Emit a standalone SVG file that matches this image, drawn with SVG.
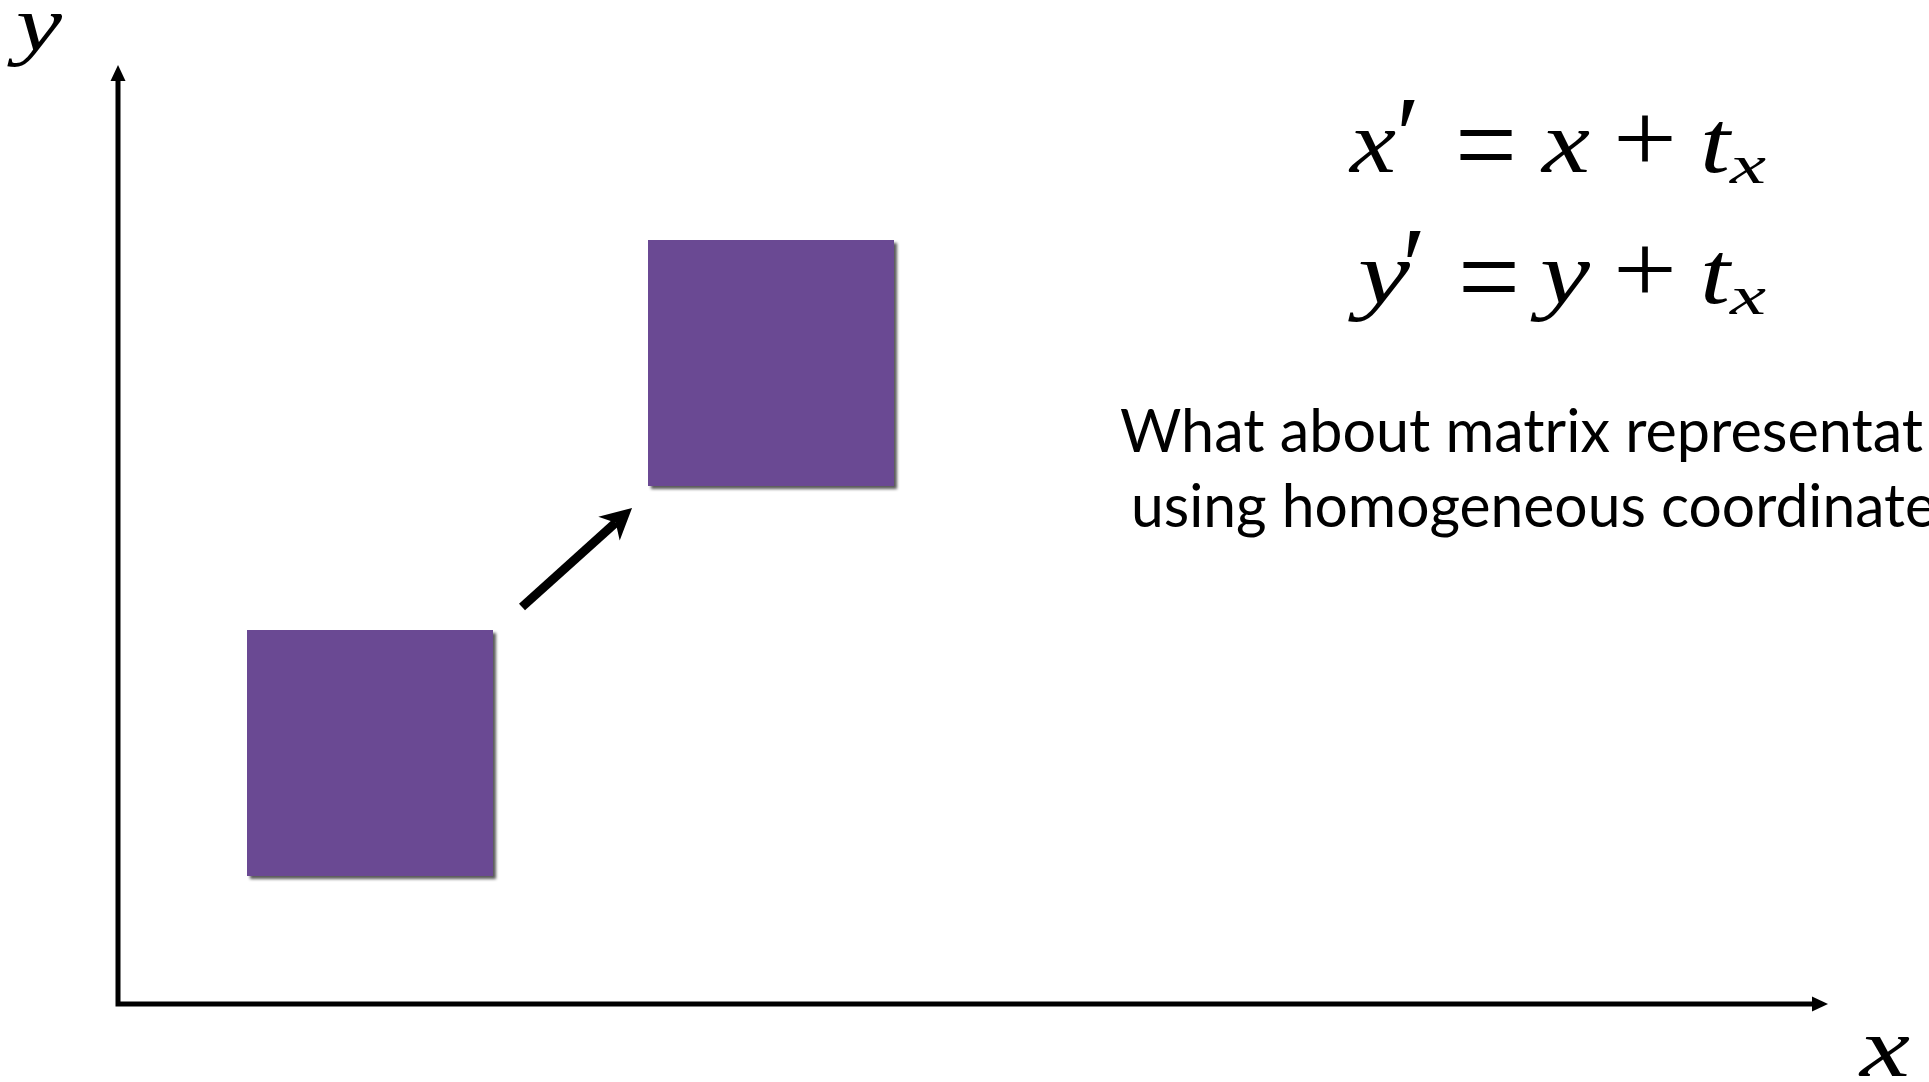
<svg xmlns="http://www.w3.org/2000/svg" width="1929" height="1082" viewBox="0 0 1929 1082">
<style>
.m{font-family:"Liberation Serif","Times New Roman",serif;font-style:italic;fill:#000}
.op{font-family:"Liberation Serif","Times New Roman",serif;fill:#000}
.q{font-family:Lato,"Open Sans",sans-serif;font-size:60px;fill:#000}
.ax{fill:none;stroke:#000;stroke-width:5;stroke-linejoin:miter}
.sq{fill:#6a4893;filter:url(#sh)}
</style>
<defs>
<filter id="sh" x="-5%" y="-5%" width="115%" height="115%">
<feDropShadow dx="3" dy="3" stdDeviation="1.5" flood-color="#000" flood-opacity="0.65"/>
</filter>
<marker id="axh" markerUnits="userSpaceOnUse" viewBox="0 -8 17 16" refX="0" refY="0" markerWidth="17" markerHeight="16" orient="auto-start-reverse">
<path d="M16,0 L0,-7.5 L0,7.5 Z" fill="#000"/>
</marker>
<marker id="dh" markerUnits="userSpaceOnUse" viewBox="-10 -17 33 34" refX="0" refY="0" markerWidth="33" markerHeight="34" orient="auto">
<path d="M22,0 L-9,-16 L0,0 L-9,16 Z" fill="#000"/>
</marker>
</defs>
<rect width="1929" height="1082" fill="#fff"/>
<g id="connectors">
<path class="ax" d="M118,81 L118,1004 L1812,1004" marker-start="url(#axh)" marker-end="url(#axh)"/>
<line x1="522" y1="607" x2="615.7" y2="522.7" stroke="#000" stroke-width="9" marker-end="url(#dh)"/>
</g>
<g id="axis-labels">
<text class="m" x="16" y="50" font-size="78" textLength="46" lengthAdjust="spacingAndGlyphs">y</text>
<text class="m" x="1860" y="1076" font-size="84" textLength="50" lengthAdjust="spacingAndGlyphs">x</text>
</g>
<g id="square-original"><rect class="sq" x="247" y="630" width="246" height="246"/></g>
<g id="square-translated"><rect class="sq" x="648" y="240" width="246" height="246"/></g>
<g id="equations">
<text class="m" x="1350" y="172" font-size="88" textLength="46" lengthAdjust="spacingAndGlyphs">x</text>
<text class="op" x="1396" y="172" font-size="110">′</text>
<text class="op" transform="translate(1455,184.5) scale(1,1.19)" font-size="100" textLength="62" lengthAdjust="spacingAndGlyphs">=</text>
<text class="m" x="1542" y="172" font-size="88" textLength="48" lengthAdjust="spacingAndGlyphs">x</text>
<text class="op" x="1613" y="172" font-size="100" textLength="64" lengthAdjust="spacingAndGlyphs">+</text>
<text class="m" x="1700" y="172" font-size="88" textLength="30" lengthAdjust="spacingAndGlyphs">t</text>
<text class="m" x="1730" y="183" font-size="54" textLength="36" lengthAdjust="spacingAndGlyphs">x</text>

<text class="m" x="1358" y="303" font-size="88" textLength="52" lengthAdjust="spacingAndGlyphs">y</text>
<text class="op" x="1402" y="303" font-size="110">′</text>
<text class="op" transform="translate(1458,316.5) scale(1,1.19)" font-size="100" textLength="62" lengthAdjust="spacingAndGlyphs">=</text>
<text class="m" x="1540" y="303" font-size="88" textLength="50" lengthAdjust="spacingAndGlyphs">y</text>
<text class="op" x="1613" y="303" font-size="100" textLength="64" lengthAdjust="spacingAndGlyphs">+</text>
<text class="m" x="1700" y="303" font-size="88" textLength="30" lengthAdjust="spacingAndGlyphs">t</text>
<text class="m" x="1730" y="314" font-size="54" textLength="36" lengthAdjust="spacingAndGlyphs">x</text>
</g>
<g id="question">
<text class="q" x="1120" y="452" textLength="803" lengthAdjust="spacingAndGlyphs">What about matrix representat</text>
<text class="q" x="1131" y="527" textLength="805" lengthAdjust="spacingAndGlyphs">using homogeneous coordinate</text>
</g>
</svg>
